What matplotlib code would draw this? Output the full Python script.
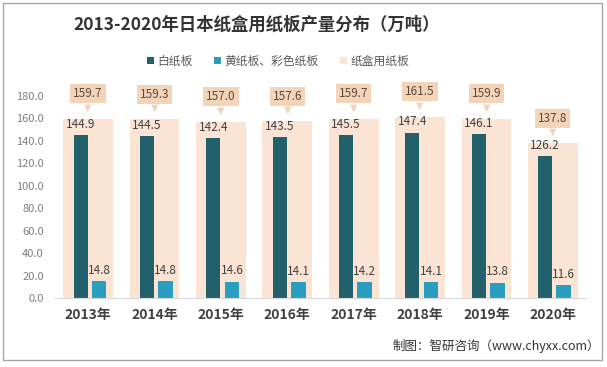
import matplotlib
matplotlib.use("Agg")
import matplotlib.pyplot as plt
import numpy as np
from matplotlib.patches import Rectangle

plt.rcParams['font.family'] = ['Noto Sans CJK SC', 'DejaVu Sans']

years = ['2013年', '2014年', '2015年', '2016年', '2017年', '2018年', '2019年', '2020年']
white_board = [144.9, 144.5, 142.4, 143.5, 145.5, 147.4, 146.1, 126.2]
color_board = [14.8, 14.8, 14.6, 14.1, 14.2, 14.1, 13.8, 11.6]
box_board = [159.7, 159.3, 157.0, 157.6, 159.7, 161.5, 159.9, 137.8]

c_dark = '#22606b'
c_blue = '#2a9ec0'
c_peach = '#fbe4d4'
c_callout = '#f3d4b8'
c_text = '#404040'

W, H = 607, 367
fig = plt.figure(figsize=(W / 100, H / 100), dpi=100)
ax = fig.add_axes([55 / W, 1 - 298 / H, (586 - 55) / W, (298 - 96) / H])

x = np.arange(len(years))
ax.bar(x, box_board, width=0.75, color=c_peach, zorder=1, label='纸盒用纸板')
ax.bar(x - 0.115, white_board, width=0.21, color=c_dark, zorder=2, label='白纸板')
ax.bar(x + 0.165, color_board, width=0.22, color=c_blue, zorder=2, label='黄纸板、彩色纸板')

for i in range(len(years)):
    ax.annotate(f'{white_board[i]:.1f}', xy=(x[i] - 0.115, white_board[i]), xytext=(0, 3),
                textcoords='offset points', ha='center', va='bottom', fontsize=8.5, color=c_text)
    ax.annotate(f'{color_board[i]:.1f}', xy=(x[i] + 0.165, color_board[i]), xytext=(0, 3),
                textcoords='offset points', ha='center', va='bottom', fontsize=8.5, color=c_text)
    # little pointer under the callout box
    ax.annotate('▼', xy=(x[i], box_board[i]), xytext=(0, 8), textcoords='offset points',
                ha='center', va='center', fontsize=7, color=c_callout, family='DejaVu Sans',
                annotation_clip=False, zorder=3)
    ax.annotate(f'{box_board[i]:.1f}', xy=(x[i], box_board[i]), xytext=(0, 18),
                textcoords='offset points', ha='center', va='center', fontsize=8.5, color='#5a4a3a',
                bbox=dict(boxstyle='square,pad=0.25', fc=c_callout, ec='none'),
                annotation_clip=False, zorder=3)

ax.set_xlim(-0.5, 7.5)
ax.set_ylim(0, 180)
ax.set_yticks(np.arange(0, 181, 20))
ax.set_yticklabels([f'{v:.1f}' for v in np.arange(0, 181, 20)])
ax.set_xticks(x)
ax.set_xticklabels(years, fontweight='bold', fontsize=10, color=c_text)
ax.tick_params(axis='x', length=0, pad=7)
ax.tick_params(axis='y', length=0, pad=8, labelsize=8, labelcolor='#7f7f7f')
for s in ['top', 'right', 'left']:
    ax.spines[s].set_visible(False)
ax.spines['bottom'].set_color('#d9d9d9')

fig.text(257 / W, 1 - 25 / H, '2013-2020年日本纸盒用纸板产量分布（万吨）', ha='center', va='center',
         fontsize=12.5, fontweight='bold', color='#333333')

handles, labels = ax.get_legend_handles_labels()
order = [1, 2, 0]
fig.legend([handles[i] for i in order], [labels[i] for i in order], loc='center',
           bbox_to_anchor=(278 / W, 1 - 61 / H), ncol=3, frameon=False, fontsize=8.5,
           handlelength=0.6, handleheight=0.6, handletextpad=0.3, columnspacing=1.8,
           labelcolor='#595959')

fig.text(600 / W, 1 - 346 / H, '制图：智研咨询（www.chyxx.com）', ha='right', va='center',
         fontsize=9, color='#333333')

fig.patches.append(Rectangle((3 / W, 1 - 360 / H), 599 / W, 357 / H, transform=fig.transFigure,
                             fill=False, ec='#a6a6a6', lw=1))

fig.savefig('out.png', dpi=100)
